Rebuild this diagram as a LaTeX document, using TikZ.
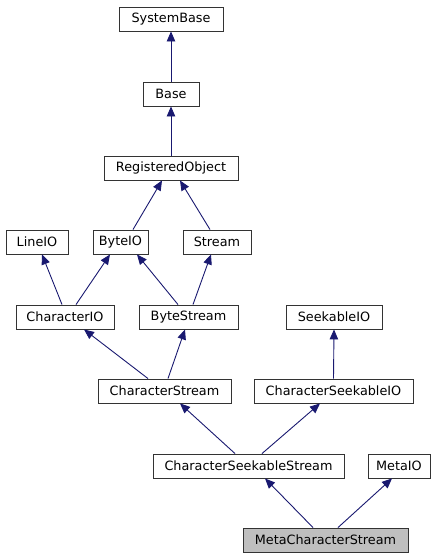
\documentclass[tikz,border=0pt]{standalone}
\usepackage{fontspec}
\setmainfont{DejaVu Sans}
\usetikzlibrary{arrows.meta,calc}
\definecolor{edgecol}{HTML}{191970}
\definecolor{boxline}{HTML}{333333}
\tikzset{
  cls/.style={draw=boxline, line width=0.9pt, fill=white, inner sep=0pt,
    minimum height=24pt, font=\fontsize{12.8}{14}\selectfont, text=black},
  cur/.style={cls, fill=black!25},
  inh/.style={draw=edgecol, line width=0.9pt, -{Triangle[length=10pt,width=8.5pt]}, color=edgecol}
}
\begin{document}
\begin{tikzpicture}[x=1pt,y=-1pt]
\useasboundingbox (0,0) rectangle (443,560);
\node[cls, minimum width=104pt] (SystemBase) at (171,19) {SystemBase};
\node[cls, minimum width=56pt] (Base) at (171,94) {Base};
\node[cls, minimum width=134pt] (RegisteredObject) at (171,168) {RegisteredObject};
\node[cls, minimum width=62pt] (LineIO) at (37,242) {LineIO};
\node[cls, minimum width=55pt] (ByteIO) at (120.5,242) {ByteIO};
\node[cls, minimum width=68pt] (Stream) at (217,242) {Stream};
\node[cls, minimum width=98pt] (CharacterIO) at (65,317) {CharacterIO};
\node[cls, minimum width=99pt] (ByteStream) at (188.5,317) {ByteStream};
\node[cls, minimum width=96pt] (SeekableIO) at (334,317) {SeekableIO};
\node[cls, minimum width=133pt] (CharacterStream) at (164.5,391) {CharacterStream};
\node[cls, minimum width=159pt] (CharacterSeekableIO) at (333.5,391) {CharacterSeekableIO};
\node[cls, minimum width=191pt] (CharacterSeekableStream) at (248.5,466) {CharacterSeekableStream};
\node[cls, minimum width=62pt] (MetaIO) at (399,466) {MetaIO};
\node[cur, minimum width=165pt] (MetaCharacterStream) at (325.5,540) {MetaCharacterStream};

\draw[inh] (Base.north) -- (SystemBase.south);
\draw[inh] (RegisteredObject.north) -- (Base.south);
\draw[inh] ($(ByteIO.north)+(12.5,0)$) -- ($(RegisteredObject.south)+(-9,0)$);
\draw[inh] ($(Stream.north)+(-7,0)$) -- ($(RegisteredObject.south)+(9,0)$);
\draw[inh] ($(CharacterIO.north)+(-3,0)$) -- ($(LineIO.south)+(5,0)$);
\draw[inh] ($(CharacterIO.north)+(11,0)$) -- ($(ByteIO.south)+(-10.5,0)$);
\draw[inh] ($(ByteStream.north)+(-10.5,0)$) -- ($(ByteIO.south)+(16.5,0)$);
\draw[inh] ($(ByteStream.north)+(4.5,0)$) -- ($(Stream.south)+(-6,0)$);
\draw[inh] ($(CharacterStream.north)+(-16.5,0)$) -- ($(CharacterIO.south)+(19,0)$);
\draw[inh] ($(CharacterStream.north)+(3.5,0)$) -- ($(ByteStream.south)+(-3.5,0)$);
\draw[inh] (CharacterSeekableIO.north) -- (SeekableIO.south);
\draw[inh] ($(CharacterSeekableStream.north)+(-13.5,0)$) -- ($(CharacterStream.south)+(15.5,0)$);
\draw[inh] ($(CharacterSeekableStream.north)+(13.5,0)$) -- ($(CharacterSeekableIO.south)+(-13.5,0)$);
\draw[inh] ($(MetaCharacterStream.north)+(-12.5,0)$) -- ($(CharacterSeekableStream.south)+(16.5,0)$);
\draw[inh] ($(MetaCharacterStream.north)+(12.5,0)$) -- ($(MetaIO.south)+(-7,0)$);
\end{tikzpicture}
\end{document}
